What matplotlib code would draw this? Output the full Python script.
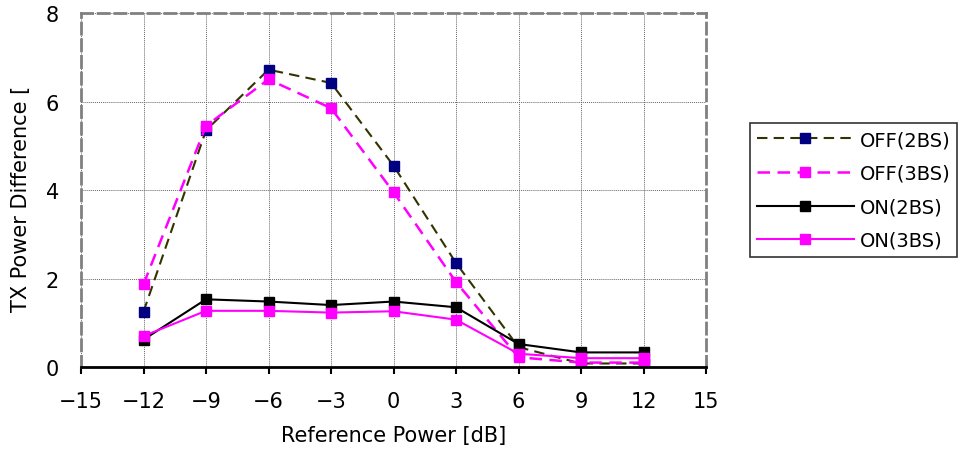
import matplotlib
matplotlib.use("Agg")
import matplotlib.pyplot as plt

plt.rcParams['font.family'] = ['DejaVu Sans']

x_db = [-12, -9, -6, -3, 0, 3, 6, 9, 12]
off_2bs = [1.25, 5.35, 6.72, 6.42, 4.55, 2.35, 0.45, 0.08, 0.08]
off_3bs = [1.87, 5.45, 6.50, 5.85, 3.95, 1.92, 0.22, 0.10, 0.10]
on_2bs = [0.62, 1.53, 1.48, 1.40, 1.48, 1.35, 0.52, 0.33, 0.33]
on_3bs = [0.70, 1.27, 1.27, 1.23, 1.26, 1.07, 0.30, 0.20, 0.20]
labels = ["OFF(2BS)", "OFF(3BS)", "ON(2BS)", "ON(3BS)"]
x_ticks = [-15, -12, -9, -6, -3, 0, 3, 6, 9, 12, 15]
y_ticks = [0, 2, 4, 6, 8]

fig = plt.figure(figsize=(9.61, 4.52), dpi=100)
ax = fig.add_axes([0.0843, 0.1858, 0.6504, 0.7832])

ms = 7.5
ax.plot(x_db, off_2bs, color='#333300', ls=(0, (5, 3)), lw=1.5, marker='s',
        ms=ms, mfc='#000080', mec='#000080', label=labels[0])
ax.plot(x_db, off_3bs, color='#FF00FF', ls=(0, (5, 3)), lw=1.8, marker='s',
        ms=ms, mfc='#FF00FF', mec='#FF00FF', label=labels[1])
ax.plot(x_db, on_2bs, color='black', ls='-', lw=1.5, marker='s',
        ms=ms, mfc='black', mec='black', label=labels[2])
ax.plot(x_db, on_3bs, color='#FF00FF', ls='-', lw=1.5, marker='s',
        ms=ms, mfc='#FF00FF', mec='#FF00FF', label=labels[3])

ax.set_xlim(-15, 15)
ax.set_ylim(0, 8)
ax.set_xticks(x_ticks)
ax.set_yticks(y_ticks)
ax.set_xticklabels([str(v).replace('-', '\u2212') for v in x_ticks], fontsize=15)
ax.set_yticklabels([str(v) for v in y_ticks], fontsize=15)
ax.tick_params(axis='y', length=0, pad=16)
ax.tick_params(axis='x', length=5, width=1.5, direction='out', pad=12)
ax.grid(True, color='#666666', ls=(0, (1, 1)), lw=0.7)
ax.set_axisbelow(True)

for s in ['top', 'right', 'left']:
    ax.spines[s].set_color('#808080')
    ax.spines[s].set_linestyle((0, (4, 2)))
    ax.spines[s].set_linewidth(2)
ax.spines['bottom'].set_color('black')
ax.spines['bottom'].set_linewidth(2)

ax.set_xlabel("Reference Power [dB]", fontsize=15, labelpad=10)
fig.text(0.022, 0.56, "TX Power Difference [", rotation=90, fontsize=15,
         ha='center', va='center')

leg = ax.legend(loc='center left', bbox_to_anchor=(1.07, 0.50), fontsize=14,
                frameon=True, fancybox=False, edgecolor='black', handlelength=5.0,
                borderpad=0.35, labelspacing=0.75, handletextpad=0.3, borderaxespad=0)
leg.get_frame().set_linewidth(1.2)

fig.savefig("out.png", dpi=100)
